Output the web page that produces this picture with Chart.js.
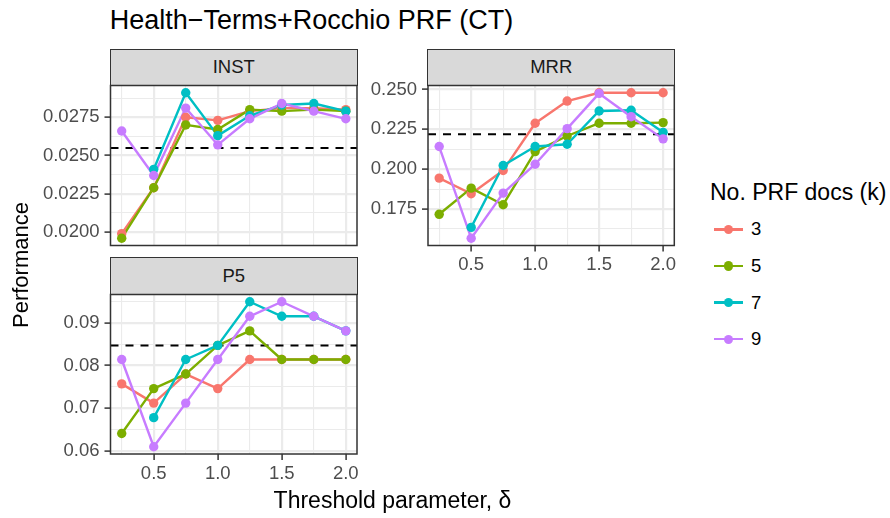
<!DOCTYPE html>
<html>
<head>
<meta charset="utf-8">
<script src="https://cdn.jsdelivr.net/npm/chart.js@4/dist/chart.umd.min.js"></script>
<style>
  html, body { margin: 0; padding: 0; background: #ffffff; }
  #fig { position: relative; width: 890px; height: 518px; overflow: hidden;
         font-family: "Liberation Sans", Arial, Helvetica, sans-serif; background: #ffffff; }
  #fig canvas { position: absolute; }
  .txt { position: absolute; white-space: nowrap; color: #000000; }
  .strip { position: absolute; box-sizing: border-box; background: #D9D9D9;
           border: 1.5px solid #333333; color: #1A1A1A; font-size: 18.5px;
           display: flex; align-items: center; justify-content: center; }
  .key-line { position: absolute; height: 2.4px; }
  .key-dot { position: absolute; width: 9.4px; height: 9.4px; border-radius: 50%; }
</style>
</head>
<body>
<div id="fig">
  <div class="txt" id="title" style="left:109.7px;top:7.1px;font-size:27px;line-height:27px;">Health−Terms+Rocchio PRF (CT)</div>

  <div class="strip" style="left:109.75px;top:48.5px;width:248px;height:37.5px;">INST</div>
  <div class="strip" style="left:427.25px;top:48.5px;width:248px;height:37.5px;">MRR</div>
  <div class="strip" style="left:109.75px;top:256.75px;width:248px;height:38px;">P5</div>

  <canvas id="cInst"></canvas>
  <canvas id="cMrr"></canvas>
  <canvas id="cP5"></canvas>

  <div class="txt" id="ylab" style="left:-129.1px;top:254px;width:300px;height:22px;font-size:22px;line-height:22px;text-align:center;transform:rotate(-90deg);">Performance</div>
  <div class="txt" id="xlab" style="left:110.5px;top:488.8px;width:564px;font-size:23px;line-height:23px;text-align:center;">Threshold parameter, δ</div>

  <div id="legend"></div>
</div>

<script>
// ---- data ---------------------------------------------------------------
const thresholds = [0.25, 0.5, 0.75, 1.0, 1.25, 1.5, 1.75, 2.0];
const prfDocs = ['3', '5', '7', '9'];
const seriesColors = ['#F8766D', '#7CAE00', '#00BFC4', '#C77CFF'];

// INST
const inst_k3 = [0.0199, 0.0229, 0.0275, 0.0273, 0.0279, 0.0281, 0.0281, 0.0280];
const inst_k5 = [0.0196, 0.0229, 0.0270, 0.0267, 0.0280, 0.0279, 0.0280, 0.0279];
const inst_k7 = [null,   0.0241, 0.0291, 0.0263, 0.0276, 0.0283, 0.0284, 0.0279];
const inst_k9 = [0.0266, 0.0237, 0.0281, 0.0257, 0.0274, 0.0284, 0.0279, 0.0274];
const instBaseline = 0.0255;

// MRR
const mrr_k3 = [0.1944, 0.1846, 0.1992, 0.2288, 0.2427, 0.2479, 0.2479, 0.2479];
const mrr_k5 = [0.1717, 0.1881, 0.1777, 0.2110, 0.2208, 0.2288, 0.2288, 0.2292];
const mrr_k7 = [null,   0.1635, 0.2023, 0.2142, 0.2156, 0.2365, 0.2369, 0.2231];
const mrr_k9 = [0.2142, 0.1567, 0.1850, 0.2031, 0.2254, 0.2475, 0.2329, 0.2190];
const mrrBaseline = 0.2219;

// P5
const p5_k3 = [0.0757, 0.0712, 0.0780, 0.0746, 0.0814, 0.0814, 0.0814, 0.0814];
const p5_k5 = [0.0641, 0.0746, 0.0780, 0.0847, 0.0881, 0.0814, 0.0814, 0.0814];
const p5_k7 = [null,   0.0678, 0.0814, 0.0847, 0.0949, 0.0915, 0.0915, 0.0881];
const p5_k9 = [0.0814, 0.0610, 0.0712, 0.0814, 0.0915, 0.0949, 0.0915, 0.0881];
const p5Baseline = 0.0847;

// tick values and their labels
const xTicks = [0.5, 1.0, 1.5, 2.0];
const xTickLabels = ['0.5', '1.0', '1.5', '2.0'];
const instTicks = [0.0200, 0.0225, 0.0250, 0.0275];
const instTickLabels = ['0.0200', '0.0225', '0.0250', '0.0275'];
const mrrTicks = [0.175, 0.200, 0.225, 0.250];
const mrrTickLabels = ['0.175', '0.200', '0.225', '0.250'];
const p5Ticks = [0.06, 0.07, 0.08, 0.09];
const p5TickLabels = ['0.06', '0.07', '0.08', '0.09'];

// ---- helpers ------------------------------------------------------------
const FONT = '"Liberation Sans", Arial, Helvetica, sans-serif';
Chart.defaults.font.family = FONT;

// continuous range widened by 5% on both sides
function expandRange(values, mult) {
  const v = values.filter(x => x !== null && x !== undefined);
  const lo = Math.min(...v), hi = Math.max(...v);
  const pad = (hi - lo) * mult;
  return [lo - pad, hi + pad];
}

// major breaks plus minor breaks half-way between them, limited to [lo, hi]
function breakTicks(majors, labels, lo, hi) {
  const half = (majors[1] - majors[0]) / 2;
  const kMin = Math.ceil((lo - majors[0]) / half - 1e-9);
  const kMax = Math.floor((hi - majors[0]) / half + 1e-9);
  const out = [];
  for (let k = kMin; k <= kMax; k++) {
    const isMajor = k % 2 === 0;
    const idx = k / 2;
    out.push({
      value: majors[0] + k * half,
      gg: isMajor,
      txt: isMajor && idx >= 0 && idx < labels.length ? labels[idx] : ''
    });
  }
  return out;
}

const panelBorder = {
  id: 'panelBorder',
  afterDraw(chart) {
    const { ctx, chartArea: a } = chart;
    ctx.save();
    ctx.strokeStyle = '#333333';
    ctx.lineWidth = 1.5;
    ctx.strokeRect(a.left, a.top, a.right - a.left, a.bottom - a.top);
    ctx.restore();
  }
};

function toPoints(values) {
  return thresholds
    .map((x, j) => ({ x: x, y: values[j] }))
    .filter(p => p.y !== null);
}

function drawPanel(id, box, plot, series, baseline, yMajors, yLabels, withX) {
  const canvas = document.getElementById(id);
  canvas.width = box.w;
  canvas.height = box.h;
  canvas.style.left = box.x + 'px';
  canvas.style.top = box.y + 'px';
  canvas.style.width = box.w + 'px';
  canvas.style.height = box.h + 'px';

  const yAxisW = plot.l - box.x;
  const xAxisH = withX ? 36 : 0;
  const padTop = plot.t - box.y;
  const padRight = box.x + box.w - plot.r;
  const padBottom = box.y + box.h - plot.b - xAxisH;

  const [xMin, xMax] = expandRange(thresholds, 0.05);
  const [yMin, yMax] = expandRange(series.flat().concat([baseline]), 0.05);

  const datasets = [];
  // dashed reference line across the panel
  datasets.push({
    data: [{ x: xMin, y: baseline }, { x: xMax, y: baseline }],
    borderColor: '#000000', borderWidth: 2, borderDash: [8, 7],
    borderCapStyle: 'butt', pointRadius: 0, fill: false, order: 20
  });
  // all lines first, then all points on top
  series.forEach((vals, i) => {
    datasets.push({
      data: toPoints(vals), borderColor: seriesColors[i], borderWidth: 2.4,
      borderCapStyle: 'butt', borderJoinStyle: 'round',
      pointRadius: 0, fill: false, tension: 0, order: 15 - i
    });
  });
  series.forEach((vals, i) => {
    datasets.push({
      data: toPoints(vals), showLine: false, pointRadius: 4.7,
      pointBackgroundColor: seriesColors[i], pointBorderWidth: 0,
      pointBorderColor: seriesColors[i], order: 8 - i
    });
  });

  const gridLW = c => (c.tick && c.tick.gg ? 2.2 : 1.1);
  const tickCol = c => (c.tick && c.tick.gg ? '#333333' : 'rgba(0,0,0,0)');

  return new Chart(canvas, {
    type: 'line',
    data: { datasets },
    plugins: [panelBorder],
    options: {
      responsive: false,
      animation: false,
      devicePixelRatio: 1,
      events: [],
      layout: { padding: { left: 0, top: padTop, right: padRight, bottom: padBottom } },
      plugins: { legend: { display: false }, tooltip: { enabled: false }, title: { display: false } },
      scales: {
        x: {
          type: 'linear', min: xMin, max: xMax, bounds: 'data',
          afterBuildTicks: s => { s.ticks = breakTicks(xTicks, xTickLabels, xMin, xMax); },
          afterFit: s => {
            s.height = xAxisH;
            s.paddingLeft = 0; s.paddingRight = 0; s.paddingTop = 0; s.paddingBottom = 0;
          },
          ticks: {
            display: withX, autoSkip: false, maxRotation: 0, minRotation: 0,
            padding: 2.5, color: '#4D4D4D', font: { size: 18.5, family: FONT },
            callback: (v, i, t) => t[i].txt
          },
          grid: {
            color: '#EBEBEB', lineWidth: gridLW, drawTicks: withX, tickLength: 6,
            tickColor: tickCol, tickWidth: 1.5
          },
          border: { display: false }
        },
        y: {
          type: 'linear', min: yMin, max: yMax, bounds: 'data',
          afterBuildTicks: s => { s.ticks = breakTicks(yMajors, yLabels, yMin, yMax); },
          afterFit: s => {
            s.width = yAxisW;
            s.paddingLeft = 0; s.paddingRight = 0; s.paddingTop = 0; s.paddingBottom = 0;
          },
          ticks: {
            autoSkip: false, padding: 5, color: '#4D4D4D',
            font: { size: 18.5, family: FONT },
            callback: (v, i, t) => t[i].txt
          },
          grid: {
            color: '#EBEBEB', lineWidth: gridLW, drawTicks: true, tickLength: 6,
            tickColor: tickCol, tickWidth: 1.5
          },
          border: { display: false }
        }
      }
    }
  });
}

drawPanel('cInst',
  { x: 0, y: 75, w: 365, h: 185 },
  { l: 110.5, t: 85.5, r: 357, b: 245.5 },
  [inst_k3, inst_k5, inst_k7, inst_k9], instBaseline, instTicks, instTickLabels, false);

drawPanel('cMrr',
  { x: 360, y: 75, w: 325, h: 215 },
  { l: 428, t: 85.5, r: 674.3, b: 245.5 },
  [mrr_k3, mrr_k5, mrr_k7, mrr_k9], mrrBaseline, mrrTicks, mrrTickLabels, true);

drawPanel('cP5',
  { x: 0, y: 284, w: 365, h: 210 },
  { l: 110.5, t: 294.5, r: 357, b: 454 },
  [p5_k3, p5_k5, p5_k7, p5_k9], p5Baseline, p5Ticks, p5TickLabels, true);

// ---- legend -------------------------------------------------------------
(function buildLegend() {
  const fig = document.getElementById('fig');
  const head = document.createElement('div');
  head.className = 'txt';
  head.textContent = 'No. PRF docs (k)';
  head.style.cssText = 'left:710px;top:181.2px;font-size:23px;line-height:23px;';
  fig.appendChild(head);

  prfDocs.forEach((k, i) => {
    const cy = 229.4 + i * 36.6;
    const line = document.createElement('div');
    line.className = 'key-line';
    line.style.cssText = `left:714px;top:${cy - 1.2}px;width:29px;background:${seriesColors[i]};`;
    fig.appendChild(line);

    const dot = document.createElement('div');
    dot.className = 'key-dot';
    dot.style.cssText = `left:${728.3 - 4.7}px;top:${cy - 4.7}px;background:${seriesColors[i]};`;
    fig.appendChild(dot);

    const lab = document.createElement('div');
    lab.className = 'txt';
    lab.textContent = k;
    lab.style.cssText = `left:751px;top:${cy - 9.04}px;font-size:18.5px;line-height:18.5px;`;
    fig.appendChild(lab);
  });
})();
</script>
</body>
</html>
